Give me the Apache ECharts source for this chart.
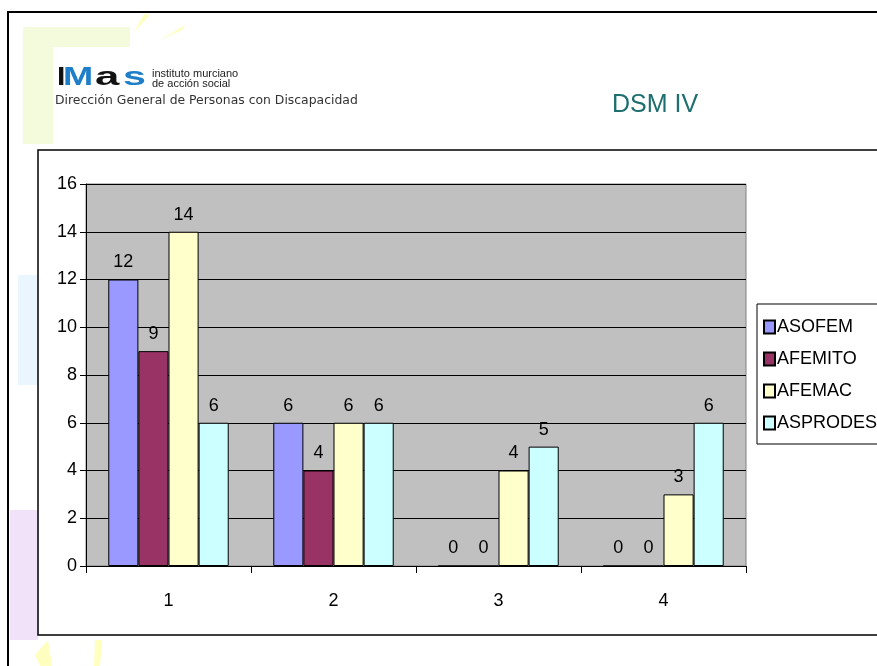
<!DOCTYPE html>
<html>
<head>
<meta charset="utf-8">
<script src="https://cdn.jsdelivr.net/npm/echarts@6/dist/echarts.min.js"></script>
<style>
  html, body { margin: 0; padding: 0; background: #fff; }
  #chart { width: 877px; height: 666px; }
</style>
</head>
<body>
<div id="chart"></div>
<script>
// categorias y valores
const categories = ['1', '2', '3', '4']
const seriesNames = ['ASOFEM', 'AFEMITO', 'AFEMAC', 'ASPRODES']
const asofem = [12, 6, 0, 0]
const afemito = [9, 4, 0, 0]
const afemac = [14, 6, 4, 3]
const asprodes = [6, 6, 5, 6]
const colors = ['#9999FF', '#993366', '#FFFFCC', '#CCFFFF']

const narrow = '"Liberation Sans Narrow", "Liberation Sans", Arial, sans-serif'
const logoFont = 'bold 25px "Liberation Sans", Arial, sans-serif'

const chart = echarts.init(document.getElementById('chart'))

const makeSeries = (name, data, i) => ({
  name: name,
  type: 'bar',
  data: data,
  barGap: 0,
  barCategoryGap: '27%',
  itemStyle: { color: colors[i], borderColor: '#000', borderWidth: 1 },
  label: {
    show: true,
    position: 'top',
    distance: 8,
    color: '#000',
    fontSize: 18,
    fontFamily: narrow
  }
})

chart.setOption({
  animation: false,
  backgroundColor: '#fff',
  graphic: [
    // fondo decorativo de la diapositiva
    { type: 'rect', z: 0, shape: { x: 23, y: 27, width: 107, height: 117 }, style: { fill: '#F4FBDC' } },
    { type: 'rect', z: 0, shape: { x: 53, y: 47, width: 80, height: 97 }, style: { fill: '#fff' } },
    { type: 'polygon', z: 0, shape: { points: [[134, 32], [150, 15], [144, 14]] }, style: { fill: '#FFFFC0' } },
    { type: 'polygon', z: 0, shape: { points: [[160, 40], [185, 25], [182, 30]] }, style: { fill: '#FFFFC0' } },
    { type: 'rect', z: 0, shape: { x: 18, y: 275, width: 20, height: 110 }, style: { fill: '#EAF6FD' } },
    { type: 'rect', z: 0, shape: { x: 10, y: 510, width: 28, height: 130 }, style: { fill: '#F1E2FA' } },
    { type: 'polygon', z: 0, shape: { points: [[35, 655], [48, 640], [52, 666], [40, 666]] }, style: { fill: '#FFFFC0' } },
    { type: 'polygon', z: 0, shape: { points: [[95, 640], [102, 640], [100, 666], [94, 666]] }, style: { fill: '#FFFFC0' } },
    // marco de la diapositiva
    { type: 'rect', z: 0, shape: { x: 8, y: 12, width: 900, height: 700 }, style: { fill: 'none', stroke: '#000', lineWidth: 2 } },
    // logo IMAS
    { type: 'text', z: 0, x: 57, y: 66, scaleX: 1.2, style: { text: 'I', fill: '#111', font: logoFont } },
    { type: 'text', z: 0, x: 63, y: 66, scaleX: 1.45, style: { text: 'M', fill: '#1E7EC8', font: logoFont } },
    { type: 'text', z: 0, x: 95, y: 66, scaleX: 1.75, style: { text: 'a', fill: '#111', font: logoFont } },
    { type: 'text', z: 0, x: 123, y: 66, scaleX: 1.65, style: { text: 's', fill: '#1E7EC8', font: logoFont } },
    { type: 'text', z: 0, x: 152, y: 68, style: { text: 'instituto murciano', fill: '#222', font: '11px "Liberation Sans", Arial, sans-serif' } },
    { type: 'text', z: 0, x: 152, y: 78, style: { text: 'de acción social', fill: '#222', font: '11px "Liberation Sans", Arial, sans-serif' } },
    { type: 'text', z: 0, x: 55, y: 95, style: { text: 'Dirección General de Personas con Discapacidad', fill: '#333', font: '12.4px "DejaVu Sans", Arial, sans-serif' } },
    // titulo
    { type: 'text', z: 0, x: 612, y: 93, style: { text: 'DSM IV', fill: '#1E6E6E', font: '25px "Liberation Sans", Arial, sans-serif', textShadowColor: '#ccc', textShadowOffsetX: 2, textShadowOffsetY: 1 } },
    // caja del grafico
    { type: 'rect', z: 0, shape: { x: 38, y: 150, width: 860, height: 485 }, style: { fill: '#fff', stroke: '#000', lineWidth: 1.5 } }
  ],
  grid: {
    left: 86,
    top: 184,
    width: 660,
    height: 382,
    show: true,
    backgroundColor: '#C0C0C0',
    borderColor: '#808080',
    borderWidth: 1,
    z: 1
  },
  legend: {
    orient: 'vertical',
    left: 757,
    top: 304,
    data: seriesNames,
    icon: 'rect',
    itemWidth: 11,
    itemHeight: 13,
    itemGap: 14,
    padding: [14, 20, 12, 6],
    borderColor: '#000',
    borderWidth: 1,
    backgroundColor: '#fff',
    textStyle: { fontSize: 18, fontFamily: narrow, color: '#000', padding: [0, 0, 0, -3] }
  },
  xAxis: {
    type: 'category',
    data: categories,
    z: 3,
    axisLine: { lineStyle: { color: '#000', width: 1 } },
    axisTick: { show: true, alignWithLabel: false, length: 7, lineStyle: { color: '#000' } },
    axisLabel: { color: '#000', fontSize: 18, fontFamily: narrow, margin: 26 },
    splitLine: { show: false }
  },
  yAxis: {
    type: 'value',
    min: 0,
    max: 16,
    interval: 2,
    z: 1,
    axisLine: { show: true, lineStyle: { color: '#000', width: 1 } },
    axisTick: { show: true, length: 6, lineStyle: { color: '#000' } },
    axisLabel: { color: '#000', fontSize: 18, fontFamily: narrow, margin: 9 },
    splitLine: { show: true, lineStyle: { color: '#000', width: 1 } }
  },
  series: [
    makeSeries(seriesNames[0], asofem, 0),
    makeSeries(seriesNames[1], afemito, 1),
    makeSeries(seriesNames[2], afemac, 2),
    makeSeries(seriesNames[3], asprodes, 3)
  ]
})
</script>
</body>
</html>
